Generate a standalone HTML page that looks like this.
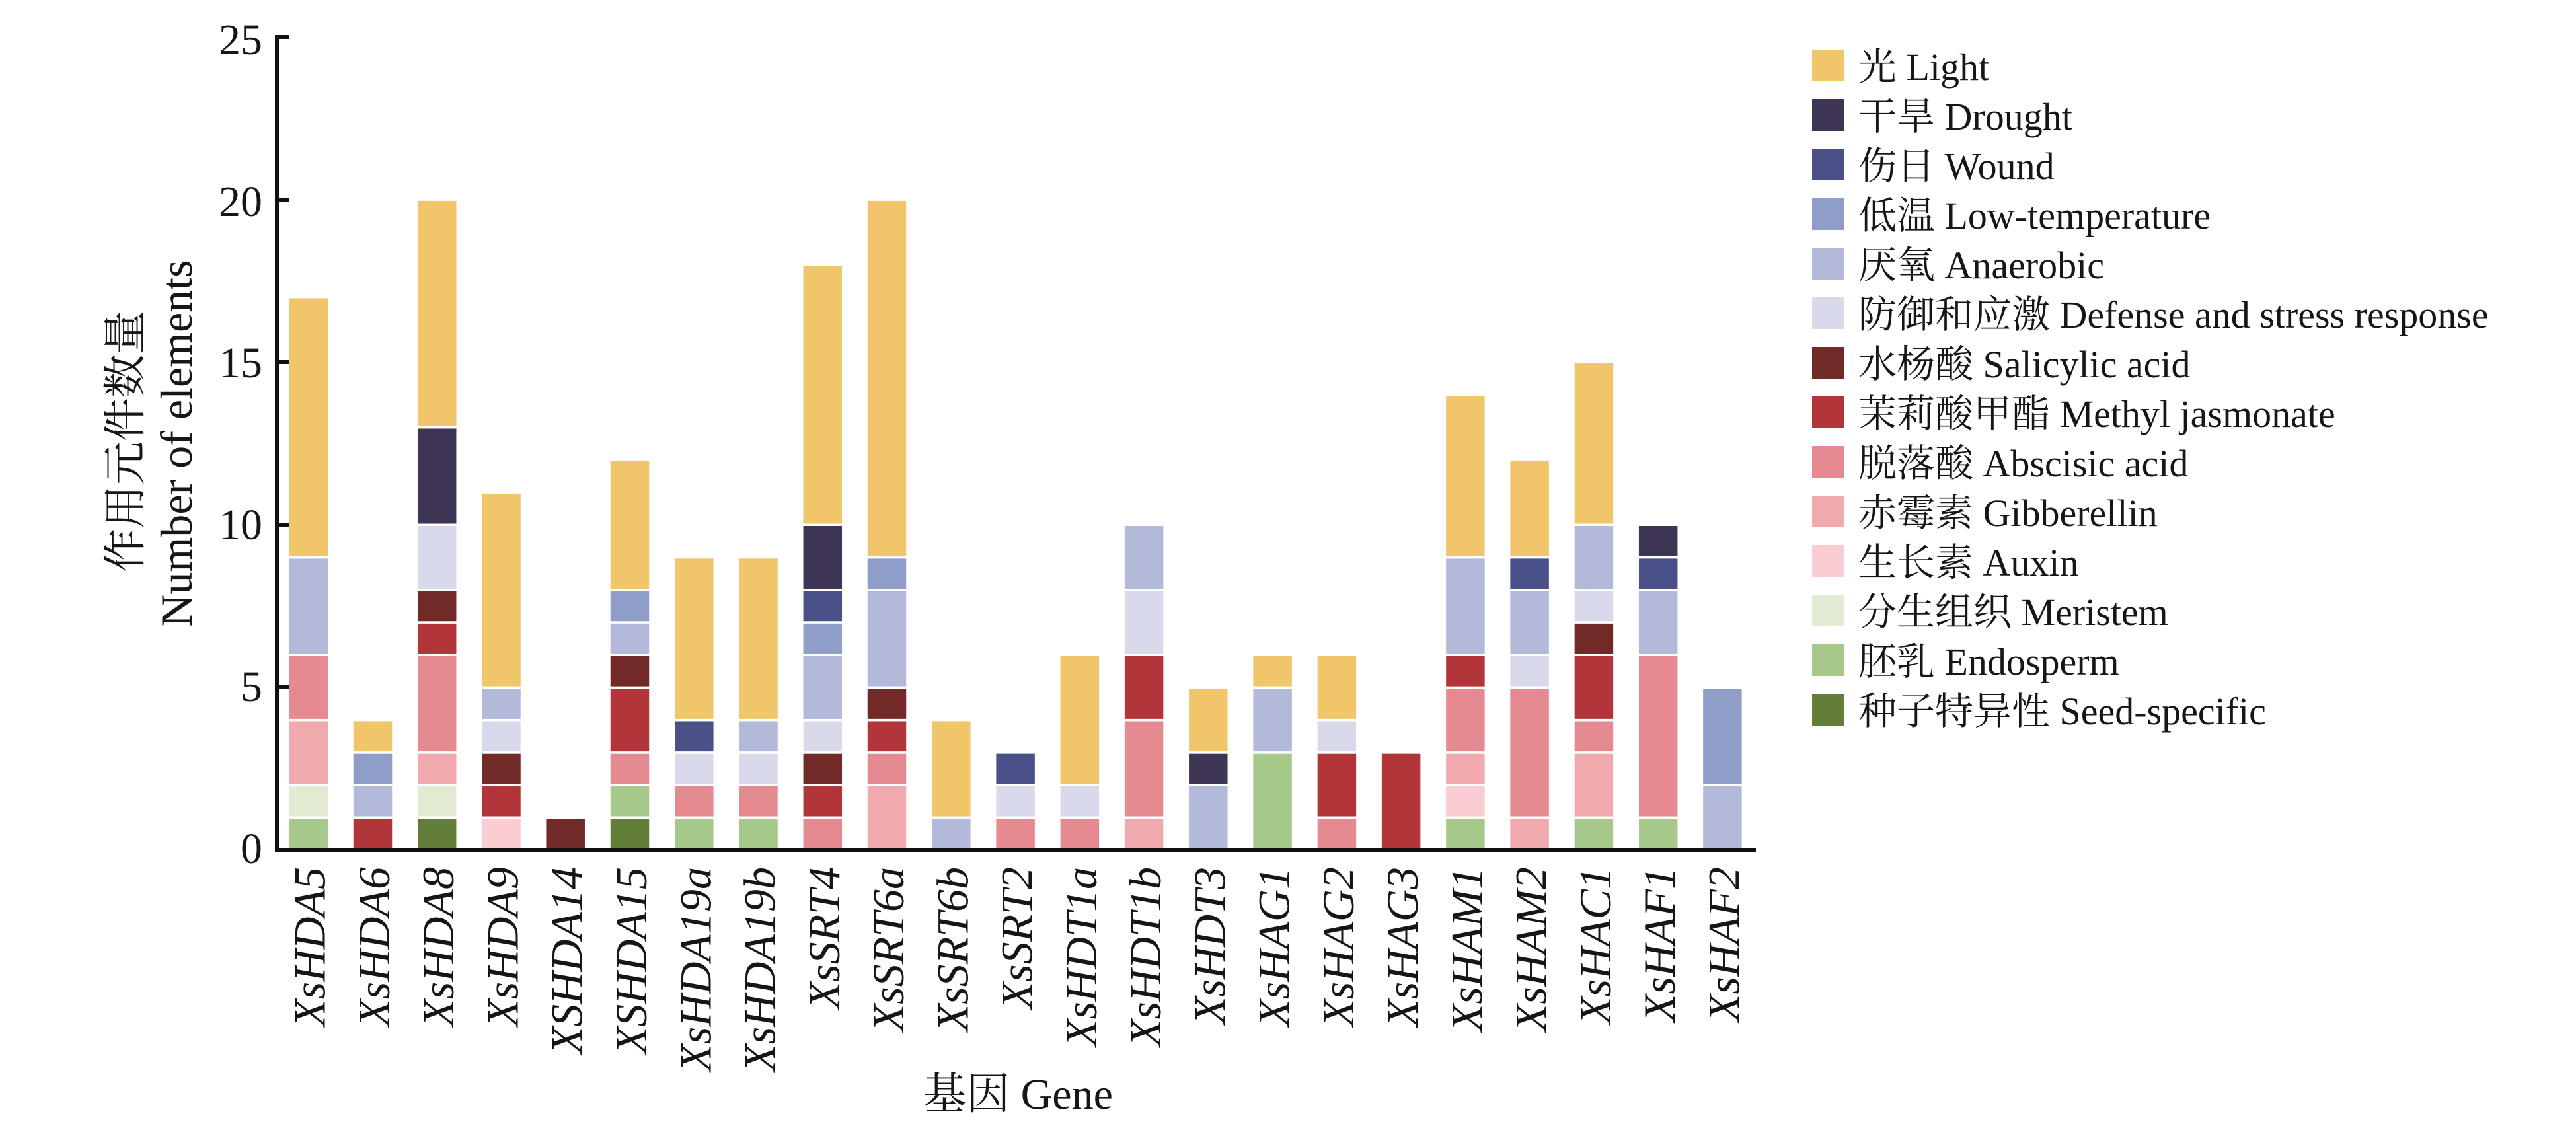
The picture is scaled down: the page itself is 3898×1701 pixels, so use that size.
<!DOCTYPE html>
<html><head><meta charset="utf-8"><style>
html,body{margin:0;padding:0;background:#fff;}
svg{display:block;}
text{font-family:"Liberation Serif","Noto Serif CJK SC",serif;fill:#161616;}
.L{fill:#F1C66B}.Dr{fill:#3E3454}.W{fill:#4A5088}.LT{fill:#8F9DC9}.An{fill:#B3B9D9}.Df{fill:#D8DAEB}
.SA{fill:#722A29}.MJ{fill:#B2353A}.AB{fill:#E68A91}.GA{fill:#F0AAAE}.Ax{fill:#FACDD2}.Me{fill:#E1ECD2}
.En{fill:#A6C98A}.Sd{fill:#637E38}
g.b rect{stroke:#fff;stroke-width:3.5;vector-effect:non-scaling-stroke;}
</style></head><body>
<svg width="3898" height="1701" viewBox="0 0 3898 1701" xmlns="http://www.w3.org/2000/svg">
<rect width="3898" height="1701" fill="#fff"/>

<!-- bars -->
<g class="b" transform="translate(466.7,1286.5) scale(1,-49.22)">
<rect x="-31" width="62" y="0" height="1" class="En"/><rect x="-31" width="62" y="1" height="1" class="Me"/><rect x="-31" width="62" y="2" height="2" class="GA"/><rect x="-31" width="62" y="4" height="2" class="AB"/><rect x="-31" width="62" y="6" height="3" class="An"/><rect x="-31" width="62" y="9" height="8" class="L"/></g>
<g class="b" transform="translate(564.0,1286.5) scale(1,-49.22)">
<rect x="-31" width="62" y="0" height="1" class="MJ"/><rect x="-31" width="62" y="1" height="1" class="An"/><rect x="-31" width="62" y="2" height="1" class="LT"/><rect x="-31" width="62" y="3" height="1" class="L"/></g>
<g class="b" transform="translate(661.2,1286.5) scale(1,-49.22)">
<rect x="-31" width="62" y="0" height="1" class="Sd"/><rect x="-31" width="62" y="1" height="1" class="Me"/><rect x="-31" width="62" y="2" height="1" class="GA"/><rect x="-31" width="62" y="3" height="3" class="AB"/><rect x="-31" width="62" y="6" height="1" class="MJ"/><rect x="-31" width="62" y="7" height="1" class="SA"/><rect x="-31" width="62" y="8" height="2" class="Df"/><rect x="-31" width="62" y="10" height="3" class="Dr"/><rect x="-31" width="62" y="13" height="7" class="L"/></g>
<g class="b" transform="translate(758.5,1286.5) scale(1,-49.22)">
<rect x="-31" width="62" y="0" height="1" class="Ax"/><rect x="-31" width="62" y="1" height="1" class="MJ"/><rect x="-31" width="62" y="2" height="1" class="SA"/><rect x="-31" width="62" y="3" height="1" class="Df"/><rect x="-31" width="62" y="4" height="1" class="An"/><rect x="-31" width="62" y="5" height="6" class="L"/></g>
<g class="b" transform="translate(855.7,1286.5) scale(1,-49.22)">
<rect x="-31" width="62" y="0" height="1" class="SA"/></g>
<g class="b" transform="translate(953.0,1286.5) scale(1,-49.22)">
<rect x="-31" width="62" y="0" height="1" class="Sd"/><rect x="-31" width="62" y="1" height="1" class="En"/><rect x="-31" width="62" y="2" height="1" class="AB"/><rect x="-31" width="62" y="3" height="2" class="MJ"/><rect x="-31" width="62" y="5" height="1" class="SA"/><rect x="-31" width="62" y="6" height="1" class="An"/><rect x="-31" width="62" y="7" height="1" class="LT"/><rect x="-31" width="62" y="8" height="4" class="L"/></g>
<g class="b" transform="translate(1050.3,1286.5) scale(1,-49.22)">
<rect x="-31" width="62" y="0" height="1" class="En"/><rect x="-31" width="62" y="1" height="1" class="AB"/><rect x="-31" width="62" y="2" height="1" class="Df"/><rect x="-31" width="62" y="3" height="1" class="W"/><rect x="-31" width="62" y="4" height="5" class="L"/></g>
<g class="b" transform="translate(1147.5,1286.5) scale(1,-49.22)">
<rect x="-31" width="62" y="0" height="1" class="En"/><rect x="-31" width="62" y="1" height="1" class="AB"/><rect x="-31" width="62" y="2" height="1" class="Df"/><rect x="-31" width="62" y="3" height="1" class="An"/><rect x="-31" width="62" y="4" height="5" class="L"/></g>
<g class="b" transform="translate(1244.8,1286.5) scale(1,-49.22)">
<rect x="-31" width="62" y="0" height="1" class="AB"/><rect x="-31" width="62" y="1" height="1" class="MJ"/><rect x="-31" width="62" y="2" height="1" class="SA"/><rect x="-31" width="62" y="3" height="1" class="Df"/><rect x="-31" width="62" y="4" height="2" class="An"/><rect x="-31" width="62" y="6" height="1" class="LT"/><rect x="-31" width="62" y="7" height="1" class="W"/><rect x="-31" width="62" y="8" height="2" class="Dr"/><rect x="-31" width="62" y="10" height="8" class="L"/></g>
<g class="b" transform="translate(1342.0,1286.5) scale(1,-49.22)">
<rect x="-31" width="62" y="0" height="2" class="GA"/><rect x="-31" width="62" y="2" height="1" class="AB"/><rect x="-31" width="62" y="3" height="1" class="MJ"/><rect x="-31" width="62" y="4" height="1" class="SA"/><rect x="-31" width="62" y="5" height="3" class="An"/><rect x="-31" width="62" y="8" height="1" class="LT"/><rect x="-31" width="62" y="9" height="11" class="L"/></g>
<g class="b" transform="translate(1439.3,1286.5) scale(1,-49.22)">
<rect x="-31" width="62" y="0" height="1" class="An"/><rect x="-31" width="62" y="1" height="3" class="L"/></g>
<g class="b" transform="translate(1536.6,1286.5) scale(1,-49.22)">
<rect x="-31" width="62" y="0" height="1" class="AB"/><rect x="-31" width="62" y="1" height="1" class="Df"/><rect x="-31" width="62" y="2" height="1" class="W"/></g>
<g class="b" transform="translate(1633.8,1286.5) scale(1,-49.22)">
<rect x="-31" width="62" y="0" height="1" class="AB"/><rect x="-31" width="62" y="1" height="1" class="Df"/><rect x="-31" width="62" y="2" height="4" class="L"/></g>
<g class="b" transform="translate(1731.1,1286.5) scale(1,-49.22)">
<rect x="-31" width="62" y="0" height="1" class="GA"/><rect x="-31" width="62" y="1" height="3" class="AB"/><rect x="-31" width="62" y="4" height="2" class="MJ"/><rect x="-31" width="62" y="6" height="2" class="Df"/><rect x="-31" width="62" y="8" height="2" class="An"/></g>
<g class="b" transform="translate(1828.3,1286.5) scale(1,-49.22)">
<rect x="-31" width="62" y="0" height="2" class="An"/><rect x="-31" width="62" y="2" height="1" class="Dr"/><rect x="-31" width="62" y="3" height="2" class="L"/></g>
<g class="b" transform="translate(1925.6,1286.5) scale(1,-49.22)">
<rect x="-31" width="62" y="0" height="3" class="En"/><rect x="-31" width="62" y="3" height="2" class="An"/><rect x="-31" width="62" y="5" height="1" class="L"/></g>
<g class="b" transform="translate(2022.9,1286.5) scale(1,-49.22)">
<rect x="-31" width="62" y="0" height="1" class="AB"/><rect x="-31" width="62" y="1" height="2" class="MJ"/><rect x="-31" width="62" y="3" height="1" class="Df"/><rect x="-31" width="62" y="4" height="2" class="L"/></g>
<g class="b" transform="translate(2120.1,1286.5) scale(1,-49.22)">
<rect x="-31" width="62" y="0" height="3" class="MJ"/></g>
<g class="b" transform="translate(2217.4,1286.5) scale(1,-49.22)">
<rect x="-31" width="62" y="0" height="1" class="En"/><rect x="-31" width="62" y="1" height="1" class="Ax"/><rect x="-31" width="62" y="2" height="1" class="GA"/><rect x="-31" width="62" y="3" height="2" class="AB"/><rect x="-31" width="62" y="5" height="1" class="MJ"/><rect x="-31" width="62" y="6" height="3" class="An"/><rect x="-31" width="62" y="9" height="5" class="L"/></g>
<g class="b" transform="translate(2314.6,1286.5) scale(1,-49.22)">
<rect x="-31" width="62" y="0" height="1" class="GA"/><rect x="-31" width="62" y="1" height="4" class="AB"/><rect x="-31" width="62" y="5" height="1" class="Df"/><rect x="-31" width="62" y="6" height="2" class="An"/><rect x="-31" width="62" y="8" height="1" class="W"/><rect x="-31" width="62" y="9" height="3" class="L"/></g>
<g class="b" transform="translate(2411.9,1286.5) scale(1,-49.22)">
<rect x="-31" width="62" y="0" height="1" class="En"/><rect x="-31" width="62" y="1" height="2" class="GA"/><rect x="-31" width="62" y="3" height="1" class="AB"/><rect x="-31" width="62" y="4" height="2" class="MJ"/><rect x="-31" width="62" y="6" height="1" class="SA"/><rect x="-31" width="62" y="7" height="1" class="Df"/><rect x="-31" width="62" y="8" height="2" class="An"/><rect x="-31" width="62" y="10" height="5" class="L"/></g>
<g class="b" transform="translate(2509.2,1286.5) scale(1,-49.22)">
<rect x="-31" width="62" y="0" height="1" class="En"/><rect x="-31" width="62" y="1" height="5" class="AB"/><rect x="-31" width="62" y="6" height="2" class="An"/><rect x="-31" width="62" y="8" height="1" class="W"/><rect x="-31" width="62" y="9" height="1" class="Dr"/></g>
<g class="b" transform="translate(2606.4,1286.5) scale(1,-49.22)">
<rect x="-31" width="62" y="0" height="2" class="An"/><rect x="-31" width="62" y="2" height="3" class="LT"/></g>

<!-- axes -->
<rect x="416" y="53" width="6" height="1236" fill="#111"/>
<rect x="416" y="1284" width="2241" height="5.5" fill="#111"/>
<rect x="416" y="53" width="21" height="6" fill="#111"/>
<rect x="416" y="299" width="21" height="6" fill="#111"/>
<rect x="416" y="545" width="21" height="6" fill="#111"/>
<rect x="416" y="791" width="21" height="6" fill="#111"/>
<rect x="416" y="1037" width="21" height="6" fill="#111"/>

<!-- y tick labels -->
<g font-size="66" text-anchor="end">
<text x="397" y="82">25</text>
<text x="397" y="327">20</text>
<text x="397" y="571">15</text>
<text x="397" y="816">10</text>
<text x="397" y="1061">5</text>
<text x="397" y="1306">0</text>
</g>

<!-- y axis title -->
<text transform="translate(212,668) rotate(-90)" font-size="66" text-anchor="middle">作用元件数量</text>
<text transform="translate(290,671) rotate(-90)" font-size="68" text-anchor="middle">Number of elements</text>

<!-- x tick labels -->
<g font-size="68" font-style="italic" text-anchor="end">
<text transform="translate(491.7,1312) rotate(-90)">XsHDA5</text>
<text transform="translate(589.0,1312) rotate(-90)">XsHDA6</text>
<text transform="translate(686.2,1312) rotate(-90)">XsHDA8</text>
<text transform="translate(783.5,1312) rotate(-90)">XsHDA9</text>
<text transform="translate(880.7,1312) rotate(-90)">XSHDA14</text>
<text transform="translate(978.0,1312) rotate(-90)">XSHDA15</text>
<text transform="translate(1075.3,1312) rotate(-90)">XsHDA19a</text>
<text transform="translate(1172.5,1312) rotate(-90)">XsHDA19b</text>
<text transform="translate(1269.8,1312) rotate(-90)">XsSRT4</text>
<text transform="translate(1367.0,1312) rotate(-90)">XsSRT6a</text>
<text transform="translate(1464.3,1312) rotate(-90)">XsSRT6b</text>
<text transform="translate(1561.6,1312) rotate(-90)">XsSRT2</text>
<text transform="translate(1658.8,1312) rotate(-90)">XsHDT1a</text>
<text transform="translate(1756.1,1312) rotate(-90)">XsHDT1b</text>
<text transform="translate(1853.3,1312) rotate(-90)">XsHDT3</text>
<text transform="translate(1950.6,1312) rotate(-90)">XsHAG1</text>
<text transform="translate(2047.9,1312) rotate(-90)">XsHAG2</text>
<text transform="translate(2145.1,1312) rotate(-90)">XsHAG3</text>
<text transform="translate(2242.4,1312) rotate(-90)">XsHAM1</text>
<text transform="translate(2339.6,1312) rotate(-90)">XsHAM2</text>
<text transform="translate(2436.9,1312) rotate(-90)">XsHAC1</text>
<text transform="translate(2534.2,1312) rotate(-90)">XsHAF1</text>
<text transform="translate(2631.4,1312) rotate(-90)">XsHAF2</text>
</g>

<!-- x axis title -->
<text x="1540" y="1678" font-size="66" text-anchor="middle">基因 Gene</text>

<!-- legend -->
<g font-size="58">
<rect x="2742" y="75" width="48" height="48" class="L"/><text x="2812" y="121">光 Light</text>
<rect x="2742" y="150" width="48" height="48" class="Dr"/><text x="2812" y="196">干旱 Drought</text>
<rect x="2742" y="225" width="48" height="48" class="W"/><text x="2812" y="271">伤日 Wound</text>
<rect x="2742" y="300" width="48" height="48" class="LT"/><text x="2812" y="346">低温 Low-temperature</text>
<rect x="2742" y="375" width="48" height="48" class="An"/><text x="2812" y="421">厌氧 Anaerobic</text>
<rect x="2742" y="450" width="48" height="48" class="Df"/><text x="2812" y="496">防御和应激 Defense and stress response</text>
<rect x="2742" y="525" width="48" height="48" class="SA"/><text x="2812" y="571">水杨酸 Salicylic acid</text>
<rect x="2742" y="600" width="48" height="48" class="MJ"/><text x="2812" y="646">茉莉酸甲酯 Methyl jasmonate</text>
<rect x="2742" y="675" width="48" height="48" class="AB"/><text x="2812" y="721">脱落酸 Abscisic acid</text>
<rect x="2742" y="750" width="48" height="48" class="GA"/><text x="2812" y="796">赤霉素 Gibberellin</text>
<rect x="2742" y="825" width="48" height="48" class="Ax"/><text x="2812" y="871">生长素 Auxin</text>
<rect x="2742" y="900" width="48" height="48" class="Me"/><text x="2812" y="946">分生组织 Meristem</text>
<rect x="2742" y="975" width="48" height="48" class="En"/><text x="2812" y="1021">胚乳 Endosperm</text>
<rect x="2742" y="1050" width="48" height="48" class="Sd"/><text x="2812" y="1096">种子特异性 Seed-specific</text>
</g>
</svg>
</body></html>
